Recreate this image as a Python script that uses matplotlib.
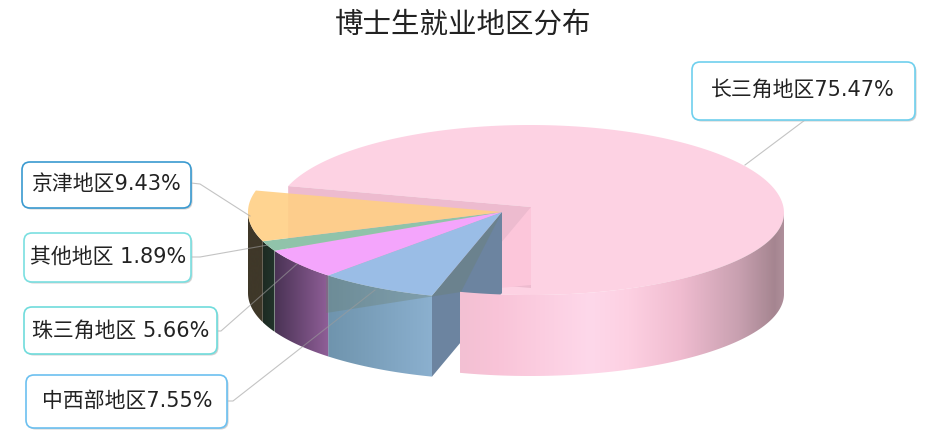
import numpy as np
import matplotlib.pyplot as plt
from matplotlib.patches import Polygon, FancyBboxPatch
from matplotlib.colors import LinearSegmentedColormap

# data
names = ["中西部地区", "珠三角地区", "其他地区", "京津地区", "长三角地区"]
values = [7.55, 5.66, 1.89, 9.43, 75.47]
label_text = ["中西部地区7.55%", "珠三角地区 5.66%", "其他地区 1.89%", "京津地区9.43%", "长三角地区75.47%"]
title = "博士生就业地区分布"

top_colors = ["#9abde6", "#f4a5fc", "#90c3aa", "#ffd085", "#fdd2e3"]
top_alpha = [1, 1, 1, 0.9, 1]
side_colors = [["#6f94ad", "#8bb0cf"], ["#4a3355", "#905f98"], ["#1d2a22", "#22352c"],
               ["#3f3829", "#3f3829"]]
pink_stops = [(0, "#f3c0d3"), (0.12, "#f9c4d8"), (0.4, "#fed8ea"), (0.52, "#fdd0e2"),
              (0.68, "#f0bcd0"), (0.86, "#c8a0b0"), (0.97, "#a58590"), (1, "#b0909c")]
box_edges = ["#6cc0f0", "#70dcdc", "#7adfe0", "#3a9ad0", "#6fd0ee"]

# pixel layout
W, H = 936, 448
start = 106.0
rx, depth = 254, 81
main_c = (502, 212)
main_ry = (87, 87)    # back half, front half
pink_c = (530, 213)
pink_ry = (88, 82)
pink_apex = (531, 207)
boxes = [(26, 375, 201, 53), (24, 307, 193, 47), (24, 233, 167, 49), (22, 162, 169, 46), (692, 62, 223, 58)]
text_xy = [(127, 401), (121, 331), (108, 257), (107, 184), (803, 90)]
leaders = [[(228, 401), (233, 401), (375, 290)], [(217, 331), (221, 331), (297, 264)],
           [(191, 257), (200, 257), (268, 245)], [(191, 183), (200, 184), (250, 216)],
           [(805, 120), (745, 165)]]

plt.rcParams['font.family'] = ['DejaVu Sans', 'Noto Sans CJK SC']
fig = plt.figure(figsize=(W / 100, H / 100), dpi=100)
ax = fig.add_axes([0, 0, 1, 1])
ax.set_xlim(0, W)
ax.set_ylim(H, 0)
ax.axis("off")


def arc(c, ry, t0, t1, dy=0):
    t = np.radians(np.linspace(t0, t1, 200))
    s = np.sin(t)
    return np.column_stack([c[0] + rx * np.cos(t), c[1] + dy + np.where(s < 0, ry[0], ry[1]) * s])


def side(c, ry, t0, t1, colors, z):
    # only the part facing the viewer
    t0, t1 = max(t0, 0), min(t1, 180)
    upper = arc(c, ry, t0, t1)
    lower = arc(c, ry, t1, t0, depth)
    poly = Polygon(np.vstack([upper, lower]), fc="none", ec="none")
    ax.add_patch(poly)
    x0, x1 = upper[:, 0].min(), upper[:, 0].max()
    cmap = LinearSegmentedColormap.from_list("s", colors)
    im = ax.imshow(np.linspace(0, 1, 256)[None, :], cmap=cmap, aspect="auto",
                   extent=[x0, x1, H, 0], zorder=z)
    im.set_clip_path(poly)


spans = np.array(values) / sum(values) * 360
edges = start + np.concatenate([[0], np.cumsum(spans)])

# the big slice sits behind and is pulled out to the upper right
pink_t0, pink_t1 = edges[4] + 3.5, edges[5]
rim = arc(pink_c, pink_ry, pink_t0, pink_t1)
ax.add_patch(Polygon(np.vstack([[pink_apex], rim]), fc=top_colors[4], ec="none", zorder=1))
# inner faces of the big slice
a = rim[0]
b = rim[-1]
ax.add_patch(Polygon([pink_apex, a, (a[0], a[1] + depth), (pink_apex[0], pink_apex[1] + depth)],
                     fc="#edbbcf", ec="none", zorder=2))
ax.add_patch(Polygon([pink_apex, b, (pink_apex[0], pink_apex[1] + 78)],
                     fc="#fcc6da", ec="none", zorder=2.5))

# cut face of the blue slice
p = arc(main_c, main_ry, edges[0], edges[0])[0]
ax.add_patch(Polygon([main_c, p, (p[0], p[1] + depth), (main_c[0], main_c[1] + depth)],
                     fc="#6c84a0", ec="none", zorder=3))
for i in range(4):
    side(main_c, main_ry, edges[i], edges[i + 1], side_colors[i], 4)

# darker band seen through the blue side
ax.add_patch(Polygon([(326, 276), (326, 313), (461, 292), (502, 212)],
                     fc="#6b7f6f", ec="none", alpha=0.35, zorder=4.5))

for i in range(4):
    ax.add_patch(Polygon(np.vstack([[main_c], arc(main_c, main_ry, edges[i], edges[i + 1])]),
                         fc=top_colors[i], ec="none", alpha=top_alpha[i], zorder=5))

# front of the big slice
side(pink_c, pink_ry, 0, pink_t1 - 360, pink_stops, 6)

for pts in leaders:
    xs, ys = zip(*pts)
    ax.plot(xs, ys, color="#9c9c9c", lw=0.8, alpha=0.6, zorder=7)

for (x, y, w, h), e, s, (tx, ty) in zip(boxes, box_edges, label_text, text_xy):
    ax.add_patch(FancyBboxPatch((x + 1.5, y + 1.5), w, h, boxstyle="round,pad=0,rounding_size=8",
                                fc="#bdbdbd", ec="none", alpha=0.7, zorder=8))
    ax.add_patch(FancyBboxPatch((x, y), w, h, boxstyle="round,pad=0,rounding_size=8",
                                fc="white", ec=e, lw=1.2, zorder=9))
    ax.text(tx, ty, s, fontsize=15, color="#222222", ha="center", va="center", zorder=10)

ax.text(463, 25, title, fontsize=20.5, color="#222222", ha="center", va="center", zorder=10)

fig.savefig("out.png", dpi=100)
